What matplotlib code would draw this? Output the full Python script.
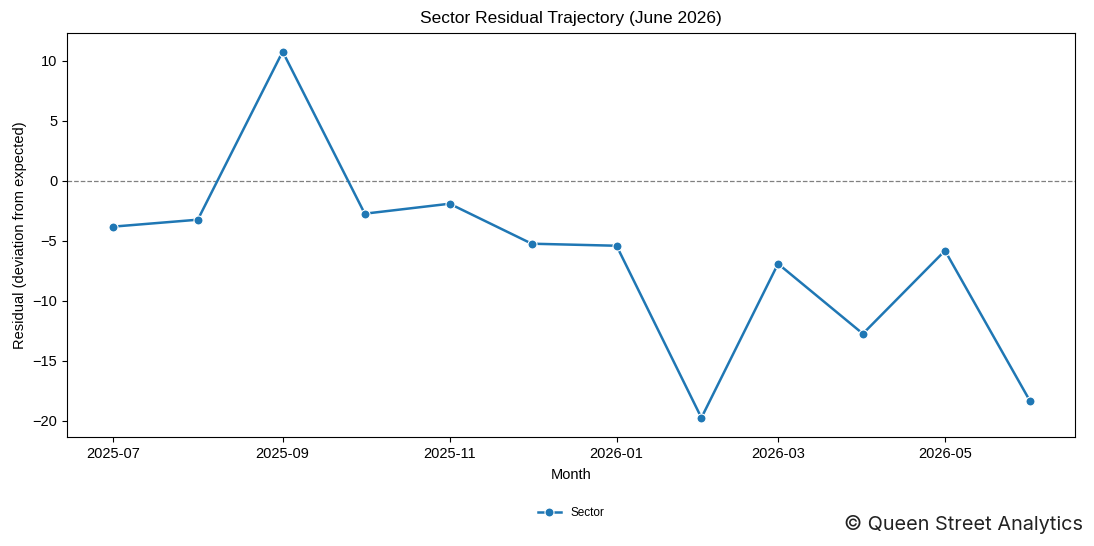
import numpy as np
import pandas as pd
import matplotlib
matplotlib.use("Agg")
import matplotlib.pyplot as plt
import matplotlib.dates as mdates

plt.rcParams["font.family"] = ["Liberation Sans", "DejaVu Sans"]

months = pd.date_range("2025-07-01", "2026-06-01", freq="MS")
residuals = [-3.83, -3.25, 10.75, -2.75, -1.92, -5.25, -5.42, -19.75, -6.92, -12.75, -5.83, -18.33]

fig = plt.figure(figsize=(10.94, 5.46), dpi=100)
ax = fig.add_axes([67 / 1094, 1 - 437 / 546, (1075 - 67) / 1094, (437 - 33) / 546])

ax.plot(months, residuals, color="#1f77b4", lw=1.8, marker="o", ms=6.5,
        markeredgecolor="white", markeredgewidth=0.8, label="Sector", zorder=3)
ax.axhline(0, color="gray", lw=0.9, ls="--", zorder=1)

ax.xaxis.set_major_locator(mdates.MonthLocator(bymonth=[1, 3, 5, 7, 9, 11]))
ax.xaxis.set_major_formatter(mdates.DateFormatter("%Y-%m"))
ax.set_xlim(pd.Timestamp("2025-06-14 05:00"), pd.Timestamp("2026-06-17 12:00"))
ax.set_ylim(-21.35, 12.3)
ax.set_yticks([-20, -15, -10, -5, 0, 5, 10])
ax.set_yticklabels(["\u221220", "\u221215", "\u221210", "\u22125", "0", "5", "10"])
ax.tick_params(labelsize=10.5)

ax.set_title("Sector Residual Trajectory (June 2026)", fontsize=12.5, pad=7)
ax.set_xlabel("Month", fontsize=10.5, labelpad=5)
ax.set_ylabel("Residual (deviation from expected)", fontsize=10.5)

fig.legend(loc="center", bbox_to_anchor=(571 / 1094, 1 - 513 / 546), frameon=False,
           fontsize=8.5, ncol=1)

fig.text(1083 / 1094, 1 - 524 / 546, "\u00a9 Queen Street Analytics", ha="right", va="center",
         fontsize=14.3, family=["Inter", "DejaVu Sans"], color="#222222")

fig.savefig("out.png", dpi=100)
